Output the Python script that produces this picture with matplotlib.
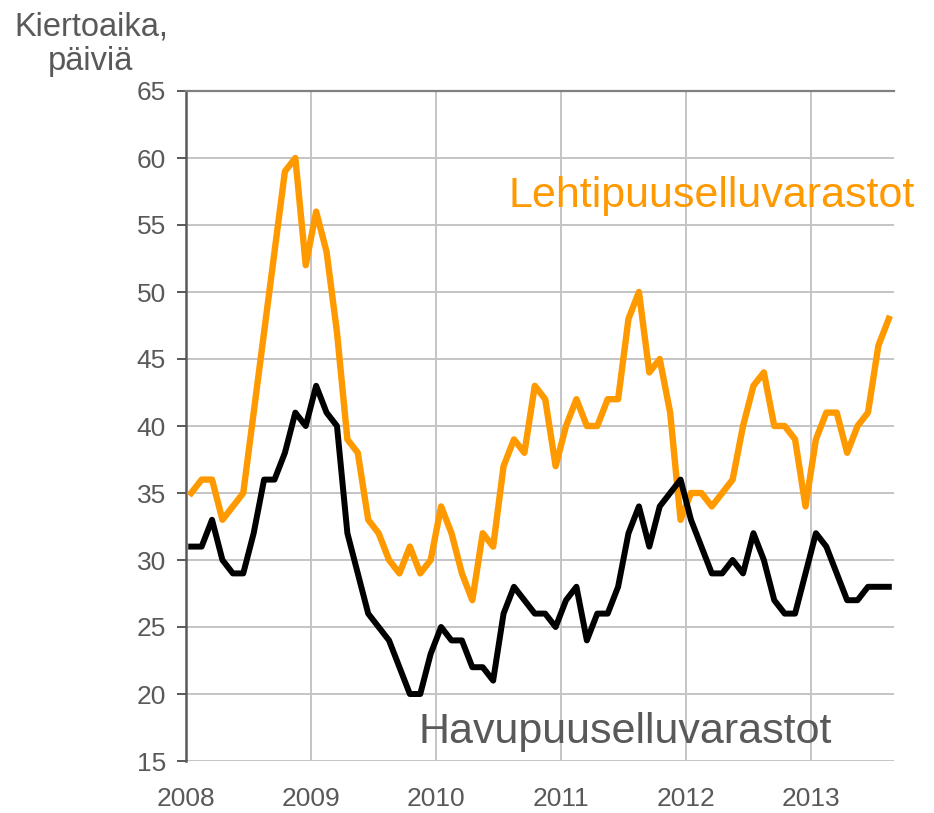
import matplotlib
matplotlib.use("Agg")
import matplotlib.pyplot as plt
import numpy as np

plt.rcParams['font.family'] = ['Liberation Sans', 'DejaVu Sans']

# kuukausittaiset arvot, tammikuu 2008 - elokuu 2013
lehtipuu = [35, 36, 36, 33, 34, 35, 41, 47, 53, 59, 60, 52,
            56, 53, 47, 39, 38, 33, 32, 30, 29, 31, 29, 30,
            34, 32, 29, 27, 32, 31, 37, 39, 38, 43, 42, 37,
            40, 42, 40, 40, 42, 42, 48, 50, 44, 45, 41, 33,
            35, 35, 34, 35, 36, 40, 43, 44, 40, 40, 39, 34,
            39, 41, 41, 38, 40, 41, 46, 48]
havupuu = [31, 31, 33, 30, 29, 29, 32, 36, 36, 38, 41, 40,
           43, 41, 40, 32, 29, 26, 25, 24, 22, 20, 20, 23,
           25, 24, 24, 22, 22, 21, 26, 28, 27, 26, 26, 25,
           27, 28, 24, 26, 26, 28, 32, 34, 31, 34, 35, 36,
           33, 31, 29, 29, 30, 29, 32, 30, 27, 26, 26, 29,
           32, 31, 29, 27, 27, 28, 28, 28]
vuodet = [2008, 2009, 2010, 2011, 2012, 2013]
y_ticks = [15, 20, 25, 30, 35, 40, 45, 50, 55, 60, 65]

oranssi = '#FF9900'
harmaa = '#595959'

n = len(lehtipuu)
x = 2008 + (np.arange(n) + 0.5) / 12      # kuukauden keskikohta

fig = plt.figure(figsize=(9.34, 8.13), dpi=100)
ax = fig.add_axes([186 / 934, 1 - 761 / 813, (894 - 186) / 934, (761 - 91) / 813])

ax.plot(x, lehtipuu, color=oranssi, lw=4.6, solid_joinstyle='round', zorder=3)
ax.plot(x, havupuu, color='black', lw=4.3, solid_joinstyle='round', zorder=4)

ax.set_xlim(2008, 2008 + 68 / 12)
ax.set_ylim(15, 65)
ax.set_xticks(vuodet)
ax.set_yticks(y_ticks)
ax.grid(True, color='#C4C4C4', lw=1.4, zorder=0)
ax.set_axisbelow(True)

for s in ['right', 'bottom']:
    ax.spines[s].set_visible(False)
ax.spines['left'].set_color(harmaa)
ax.spines['left'].set_linewidth(1.8)
ax.spines['top'].set_color('#808080')
ax.spines['top'].set_linewidth(1.6)

ax.tick_params(axis='y', length=6.5, width=1.4, color=harmaa, labelsize=19,
               labelcolor=harmaa, pad=8)
ax.tick_params(axis='x', length=0, labelsize=19, labelcolor=harmaa, pad=19)

ax.text(2010.58, 56.37, 'Lehtipuuselluvarastot', color=oranssi, fontsize=31,
        ha='left', va='baseline', zorder=5)
ax.text(2009.86, 16.32, 'Havupuuselluvarastot', color=harmaa, fontsize=31,
        ha='left', va='baseline', zorder=5)

fig.text(91 / 934, 1 - 11 / 813, 'Kiertoaika,\npäiviä', color=harmaa, fontsize=23.5,
         ha='center', va='top', linespacing=1.15)

fig.savefig('out.png', dpi=100)
